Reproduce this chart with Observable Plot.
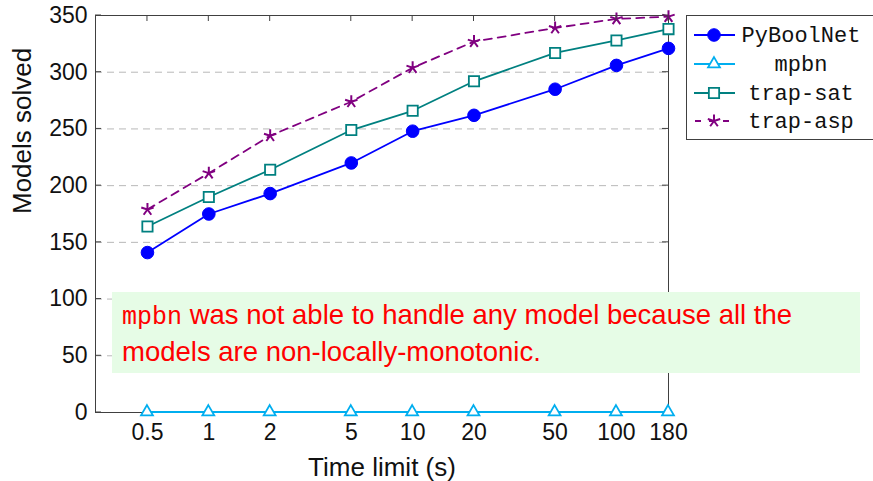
<!DOCTYPE html>
<html>
<head>
<meta charset="utf-8">
<script src="https://cdn.jsdelivr.net/npm/d3@7"></script>
<script src="https://cdn.jsdelivr.net/npm/@observablehq/plot@0.6"></script>
<style>
  html, body { margin: 0; padding: 0; background: #fff; }
  #chart { position: relative; width: 873px; height: 481px; overflow: hidden; }
</style>
</head>
<body>
<div id="chart"></div>
<script>
// ---- data ----
const times = [0.5, 1, 2, 5, 10, 20, 50, 100, 180];
const pyboolnet = [141, 175, 193, 220, 248, 262, 285, 306, 321];
const mpbn = [0, 0, 0, 0, 0, 0, 0, 0, 0];
const trapSat = [164, 190, 214, 249, 266, 292, 317, 328, 338];
const trapAsp = [179, 211, 244, 274, 304, 327, 339, 347, 349];
const yTicks = [0, 50, 100, 150, 200, 250, 300, 350];
const gridTicks = [50, 100, 150, 200, 250, 300];
const xTickLabels = ["0.5", "1", "2", "5", "10", "20", "50", "100", "180"];
const seriesNames = ["PyBoolNet", "mpbn", "trap-sat", "trap-asp"];
const noteMono = "mpbn";
const noteLine1 = " was not able to handle any model because all the";
const noteLine2 = "models are non-locally-monotonic.";

const colors = {"PyBoolNet": "#0000ff", "mpbn": "#00aeef", "trap-sat": "#008080", "trap-asp": "#800080"};

const star5 = {
  draw(context, size) {
    const r = Math.sqrt(size / Math.PI);
    for (let k = 0; k < 5; ++k) {
      const a = -Math.PI / 2 + k * 2 * Math.PI / 5;
      context.moveTo(0, 0);
      context.lineTo(r * Math.cos(a), r * Math.sin(a));
    }
  }
};

const mk = (vals) => times.map((t, i) => ({t, v: vals[i]}));
const dPy = mk(pyboolnet), dMp = mk(mpbn), dSat = mk(trapSat), dAsp = mk(trapAsp);
const xLab = times.map((t, i) => ({t, label: xTickLabels[i]}));

const sans = "'Liberation Sans', Arial, sans-serif";
const mono = "'Liberation Mono', 'DejaVu Sans Mono', monospace";

const plot = Plot.plot({
  width: 873,
  height: 481,
  marginLeft: 95,
  marginRight: 205,
  marginTop: 15,
  marginBottom: 69,
  style: {fontFamily: sans, fontSize: "23px", color: "#111", background: "#fff"},
  x: {type: "log", domain: [0.278, 180], axis: null},
  y: {domain: [0, 350], axis: null},
  marks: [
    Plot.gridY(gridTicks, {stroke: "#b8b8b8", strokeOpacity: 1, strokeDasharray: "7,5", strokeWidth: 1}),
    Plot.frame({stroke: "#404040", strokeWidth: 1}),
    Plot.text(xLab, {x: "t", text: "label", frameAnchor: "bottom", dy: 20, lineAnchor: "middle", fontSize: 23, fill: "#111"}),
    Plot.text(yTicks, {y: d => d, text: d => String(d), frameAnchor: "left", dx: -8, textAnchor: "end", lineAnchor: "middle", fontSize: 23, fill: "#111"}),
    Plot.text(["Time limit (s)"], {frameAnchor: "bottom", dy: 55, fontSize: 26, lineAnchor: "middle"}),
    Plot.text(["Models solved"], {frameAnchor: "left", dx: -73, rotate: -90, fontSize: 26, lineAnchor: "middle"}),
    // series
    Plot.line(dSat, {x: "t", y: "v", stroke: colors["trap-sat"], strokeWidth: 1.8}),
    Plot.line(dPy, {x: "t", y: "v", stroke: colors["PyBoolNet"], strokeWidth: 1.8}),
    Plot.line(dAsp, {x: "t", y: "v", stroke: colors["trap-asp"], strokeWidth: 1.8, strokeDasharray: "8,6"}),
    Plot.dot(dSat, {x: "t", y: "v", symbol: "square", r: 5.8, fill: "white", stroke: colors["trap-sat"], strokeWidth: 1.8}),
    Plot.dot(dPy, {x: "t", y: "v", symbol: "circle", r: 6.3, fill: colors["PyBoolNet"], stroke: colors["PyBoolNet"], strokeWidth: 1}),
    Plot.dot(dAsp, {x: "t", y: "v", symbol: star5, r: 6.5, fill: "none", stroke: colors["trap-asp"], strokeWidth: 2})
  ]
});

document.getElementById("chart").appendChild(plot);

// ---- inward ticks, legend and note drawn with d3 using Plot's scales ----
const sx = plot.scale("x"), sy = plot.scale("y");
const svg = d3.select(plot);
const x0 = sx.apply(0.278), x1 = sx.apply(180), yB = sy.apply(0), yT = sy.apply(350);
const tg = svg.append("g").attr("stroke", "#404040").attr("stroke-width", 1);
times.forEach(t => {
  const x = sx.apply(t);
  tg.append("line").attr("x1", x).attr("x2", x).attr("y1", yT).attr("y2", yT + 6);
  tg.append("line").attr("x1", x).attr("x2", x).attr("y1", yB).attr("y2", yB - 6);
});
yTicks.forEach(v => {
  const y = sy.apply(v);
  tg.append("line").attr("x1", x0).attr("x2", x0 + 6).attr("y1", y).attr("y2", y);
  tg.append("line").attr("x1", x1).attr("x2", x1 - 6).attr("y1", y).attr("y2", y);
});

// note box (drawn over the plot area, as in the reference)
const note = svg.append("g").attr("text-anchor", "start");
note.append("rect").attr("x", 112).attr("y", 292).attr("width", 748).attr("height", 81).attr("fill", "#e6fce6");
const t1 = note.append("text").attr("x", 122).attr("y", 324).attr("fill", "#ff0000").attr("font-size", 27.5).attr("font-family", sans);
t1.append("tspan").attr("font-family", mono).attr("font-size", 25).text(noteMono);
t1.append("tspan").text(noteLine1);
note.append("text").attr("x", 122).attr("y", 361).attr("fill", "#ff0000").attr("font-size", 27.5).attr("font-family", sans).text(noteLine2);

// mpbn series on top of bottom frame and ticks
svg.append("path")
  .attr("d", d3.line().x(d => sx.apply(d.t)).y(d => sy.apply(d.v))(dMp))
  .attr("stroke", colors["mpbn"]).attr("stroke-width", 2.2).attr("fill", "none");
dMp.forEach(d => {
  svg.append("path")
    .attr("transform", `translate(${sx.apply(d.t)},${sy.apply(d.v)})`)
    .attr("d", d3.symbol(d3.symbolTriangle, 4.4 * 4.4 * Math.PI)())
    .attr("fill", "white").attr("stroke", colors["mpbn"]).attr("stroke-width", 1.8);
});

// legend
const lg = svg.append("g");
lg.append("rect").attr("x", 686.5).attr("y", 15.5).attr("width", 220).attr("height", 124).attr("fill", "white").attr("stroke", "#404040").attr("stroke-width", 1);
const rows = [35, 64, 93, 121];
const syms = [
  {sym: d3.symbolCircle, r: 6.3, fill: colors["PyBoolNet"], dash: null, sw: 1},
  {sym: d3.symbolTriangle, r: 4.4, fill: "white", dash: null, sw: 1.8},
  {sym: d3.symbolSquare, r: 5.8, fill: "white", dash: null, sw: 1.8},
  {sym: star5, r: 6.5, fill: "none", dash: "6,8", sw: 2}
];
seriesNames.forEach((name, i) => {
  const y = rows[i], c = colors[name], s = syms[i];
  const ln = lg.append("line").attr("x1", 694).attr("x2", 735).attr("y1", y).attr("y2", y)
    .attr("stroke", c).attr("stroke-width", 1.8);
  if (s.dash) ln.attr("stroke-dasharray", s.dash).attr("stroke-dashoffset", -1);
  lg.append("path").attr("transform", `translate(714,${y})`)
    .attr("d", d3.symbol(s.sym, s.r * s.r * Math.PI)())
    .attr("fill", s.fill).attr("stroke", c).attr("stroke-width", s.sw);
  lg.append("text").attr("x", 801).attr("y", y + 7).attr("text-anchor", "middle")
    .attr("font-family", mono).attr("font-size", 22).attr("fill", "#111").text(name);
});
</script>
</body>
</html>
